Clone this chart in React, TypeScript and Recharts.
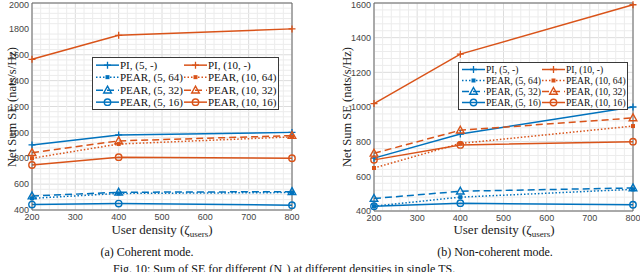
import React from 'react';
import { LineChart, Line, XAxis, YAxis, CartesianGrid, ReferenceLine, Legend } from 'recharts';

const BLUE = '#0072BD';
const ORANGE = '#D95319';
const AXIS = '#666666';
const GRID = '#dcdcdc';
const MINOR = '#ececec';
const SERIF = '"Liberation Serif", "Times New Roman", serif';
const SANS = '"Liberation Sans", Arial, Helvetica, sans-serif';

// user density on the x axis
const X_VALUES = [200, 400, 800];
const X_TICKS = [200, 300, 400, 500, 600, 700, 800];
const COH_Y_TICKS = [400, 600, 800, 1000, 1200, 1400, 1600, 1800, 2000];
const NC_Y_TICKS = [400, 600, 800, 1000, 1200, 1400, 1600];

// (a) coherent mode
const cohPI5 = [903, 980, 1000];
const cohPI10 = [1565, 1750, 1800];
const cohP5_64 = [490, 528, 535];
const cohP5_32 = [508, 537, 542];
const cohP5_16 = [442, 450, 437];
const cohP10_64 = [800, 910, 965];
const cohP10_32 = [843, 934, 975];
const cohP10_16 = [748, 808, 800];

// (b) non-coherent mode
const ncPI5 = [705, 844, 1000];
const ncPI10 = [1020, 1305, 1590];
const ncP5_64 = [428, 480, 525];
const ncP5_32 = [472, 514, 533];
const ncP5_16 = [428, 445, 436];
const ncP10_64 = [648, 790, 890];
const ncP10_32 = [733, 866, 937];
const ncP10_16 = [695, 781, 800];

type MarkerType = 'plus' | 'square' | 'triangle' | 'circle';

const SERIES: { key: string; name: string; color: string; dash?: string; marker: MarkerType }[] = [
  { key: 'pi5', name: 'PI, (5, -)', color: BLUE, marker: 'plus' },
  { key: 'pi10', name: 'PI, (10, -)', color: ORANGE, marker: 'plus' },
  { key: 'p5_64', name: 'PEAR, (5, 64)', color: BLUE, dash: '1.5 2', marker: 'square' },
  { key: 'p10_64', name: 'PEAR, (10, 64)', color: ORANGE, dash: '1.5 2', marker: 'square' },
  { key: 'p5_32', name: 'PEAR, (5, 32)', color: BLUE, dash: '7 4', marker: 'triangle' },
  { key: 'p10_32', name: 'PEAR, (10, 32)', color: ORANGE, dash: '7 4', marker: 'triangle' },
  { key: 'p5_16', name: 'PEAR, (5, 16)', color: BLUE, marker: 'circle' },
  { key: 'p10_16', name: 'PEAR, (10, 16)', color: ORANGE, marker: 'circle' },
];

const buildRows = (s: Record<string, number[]>) =>
  X_VALUES.map((x, i) => {
    const row: Record<string, number> = { x };
    Object.keys(s).forEach((k) => (row[k] = s[k][i]));
    return row;
  });

const cohData = buildRows({
  pi5: cohPI5, pi10: cohPI10, p5_64: cohP5_64, p5_32: cohP5_32,
  p5_16: cohP5_16, p10_64: cohP10_64, p10_32: cohP10_32, p10_16: cohP10_16,
});
const ncData = buildRows({
  pi5: ncPI5, pi10: ncPI10, p5_64: ncP5_64, p5_32: ncP5_32,
  p5_16: ncP5_16, p10_64: ncP10_64, p10_32: ncP10_32, p10_16: ncP10_16,
});

const Marker = ({ type, cx, cy, color }: { type: MarkerType; cx: number; cy: number; color: string }) => {
  if (type === 'plus')
    return <path d={`M${cx - 3.5},${cy}H${cx + 3.5}M${cx},${cy - 3.5}V${cy + 3.5}`} stroke={color} strokeWidth={1.3} />;
  if (type === 'square') return <rect x={cx - 2} y={cy - 2} width={4} height={4} fill={color} />;
  if (type === 'triangle')
    return (
      <polygon
        points={`${cx},${cy - 4} ${cx + 3.8},${cy + 2.8} ${cx - 3.8},${cy + 2.8}`}
        fill="none"
        stroke={color}
        strokeWidth={1.4}
      />
    );
  return <circle cx={cx} cy={cy} r={3.2} fill="none" stroke={color} strokeWidth={1.4} />;
};

// minor grid positions (MATLAB "grid minor")
const minorX = Array.from({ length: 31 }, (_, i) => 200 + i * 20).filter((v) => v % 100 !== 0);
const minorY = (max: number) =>
  Array.from({ length: (max - 400) / 40 + 1 }, (_, i) => 400 + i * 40).filter((v) => v % 200 !== 0);

interface LegendBox {
  left: number;
  top: number;
  width: number;
  rowH: number;
  fontSize: number;
  sampleW: number;
}

const LegendBody = ({ box }: { box: LegendBox }) => (
  <div
    style={{
      width: box.width,
      border: '1px solid #3a3a3a',
      background: '#fff',
      display: 'grid',
      gridTemplateColumns: '1fr 1fr',
      padding: '1px 2px',
      boxSizing: 'border-box',
      fontFamily: SERIF,
      fontSize: box.fontSize,
      color: '#111',
    }}
  >
    {SERIES.map((s) => (
      <div key={s.key} style={{ display: 'flex', alignItems: 'center', height: box.rowH, whiteSpace: 'nowrap' }}>
        <svg width={box.sampleW} height={box.rowH} style={{ flex: 'none' }}>
          <line
            x1={1}
            x2={box.sampleW - 1}
            y1={box.rowH / 2}
            y2={box.rowH / 2}
            stroke={s.color}
            strokeWidth={1.5}
            strokeDasharray={s.dash}
          />
          <Marker type={s.marker} cx={box.sampleW / 2} cy={box.rowH / 2} color={s.color} />
        </svg>
        <span>{s.name}</span>
      </div>
    ))}
  </div>
);

interface PanelProps {
  data: Record<string, number>[];
  yTicks: number[];
  left: number;
  yAxisWidth: number;
  marginRight: number;
  xAxisHeight: number;
  legend: LegendBox;
}

const Panel = ({ data, yTicks, left, yAxisWidth, marginRight, xAxisHeight, legend }: PanelProps) => {
  const yMax = yTicks[yTicks.length - 1];
  return (
    <div style={{ position: 'absolute', left, top: 0 }}>
      <LineChart width={320} height={272} data={data} margin={{ top: 3, right: marginRight, bottom: 0, left: 0 }}>
        {minorX.map((v) => (
          <ReferenceLine key={`mx${v}`} x={v} stroke={MINOR} strokeWidth={1} />
        ))}
        {minorY(yMax).map((v) => (
          <ReferenceLine key={`my${v}`} y={v} stroke={MINOR} strokeWidth={1} />
        ))}
        <CartesianGrid stroke={GRID} strokeWidth={1} />
        <XAxis
          dataKey="x"
          type="number"
          domain={[200, 800]}
          ticks={X_TICKS}
          height={xAxisHeight}
          stroke={AXIS}
          tickLine={false}
          tickSize={0}
          tickMargin={4}
          tick={{ fontSize: 9, fill: '#444', fontFamily: SANS }}
        />
        <YAxis
          type="number"
          domain={[400, yMax]}
          ticks={yTicks}
          width={yAxisWidth}
          stroke={AXIS}
          tickLine={false}
          tickSize={0}
          tickMargin={3}
          tick={{ fontSize: 9, fill: '#444', fontFamily: SANS }}
        />
        <ReferenceLine y={yMax} stroke={AXIS} />
        <ReferenceLine x={800} stroke={AXIS} />
        {SERIES.map((s) => (
          <Line
            key={s.key}
            dataKey={s.key}
            name={s.name}
            type="linear"
            stroke={s.color}
            strokeWidth={1.5}
            strokeDasharray={s.dash}
            isAnimationActive={false}
            dot={(p: any) => <Marker key={`${s.key}-${p.index}`} type={s.marker} cx={p.cx} cy={p.cy} color={s.color} />}
            activeDot={false}
          />
        ))}
        <Legend
          layout="horizontal"
          verticalAlign="middle"
          align="center"
          wrapperStyle={{ left: legend.left, top: legend.top, width: legend.width }}
          content={() => <LegendBody box={legend} />}
        />
      </LineChart>
    </div>
  );
};

const yLabelStyle = (cx: number): React.CSSProperties => ({
  position: 'absolute',
  left: cx - 80,
  top: 107 - 8,
  width: 160,
  height: 16,
  lineHeight: '16px',
  textAlign: 'center',
  transform: 'rotate(-90deg)',
  fontFamily: SERIF,
  fontSize: 12.5,
  color: '#222',
  whiteSpace: 'nowrap',
});

const xLabelStyle = (cx: number): React.CSSProperties => ({
  position: 'absolute',
  left: cx - 80,
  top: 223,
  width: 160,
  height: 15,
  lineHeight: '14px',
  textAlign: 'center',
  fontFamily: SERIF,
  fontSize: 13,
  color: '#222',
  whiteSpace: 'nowrap',
});

const captionStyle = (cx: number): React.CSSProperties => ({
  position: 'absolute',
  left: cx - 90,
  top: 245,
  width: 180,
  textAlign: 'center',
  fontFamily: SERIF,
  fontSize: 12,
  color: '#111',
  whiteSpace: 'nowrap',
});

const XLabel = () => (
  <>
    User density (ζ<sub style={{ fontSize: 9, lineHeight: 0, verticalAlign: '-3px' }}>users</sub>)
  </>
);

export default function App() {
  return (
    <div style={{ position: 'absolute', left: 0, top: 0, width: 640, height: 272, overflow: 'hidden', background: '#fff' }}>
      <Panel
        data={cohData}
        yTicks={COH_Y_TICKS}
        left={0}
        yAxisWidth={32}
        marginRight={28}
        xAxisHeight={62}
        legend={{ left: 92, top: 57, width: 187, rowH: 12.3, fontSize: 11, sampleW: 25 }}
      />
      <Panel
        data={ncData}
        yTicks={NC_Y_TICKS}
        left={320}
        yAxisWidth={54}
        marginRight={7}
        xAxisHeight={61}
        legend={{ left: 138, top: 62, width: 170, rowH: 11, fontSize: 9.6, sampleW: 25 }}
      />
      <div style={yLabelStyle(12)}>Net Sum SE (nats/s/Hz)</div>
      <div style={yLabelStyle(347)}>Net Sum SE (nats/s/Hz)</div>
      <div style={xLabelStyle(162)}>
        <XLabel />
      </div>
      <div style={xLabelStyle(504)}>
        <XLabel />
      </div>
      <div style={captionStyle(147)}>(a) Coherent mode.</div>
      <div style={captionStyle(495)}>(b) Non-coherent mode.</div>
      <div
        style={{
          position: 'absolute',
          left: 113,
          top: 262,
          fontFamily: SERIF,
          fontSize: 12,
          color: '#111',
          whiteSpace: 'nowrap',
        }}
      >
        Fig. 10: Sum of SE for different (N<sub style={{ fontSize: 9 }}>p</sub>) at different densities in single TS.
      </div>
    </div>
  );
}
